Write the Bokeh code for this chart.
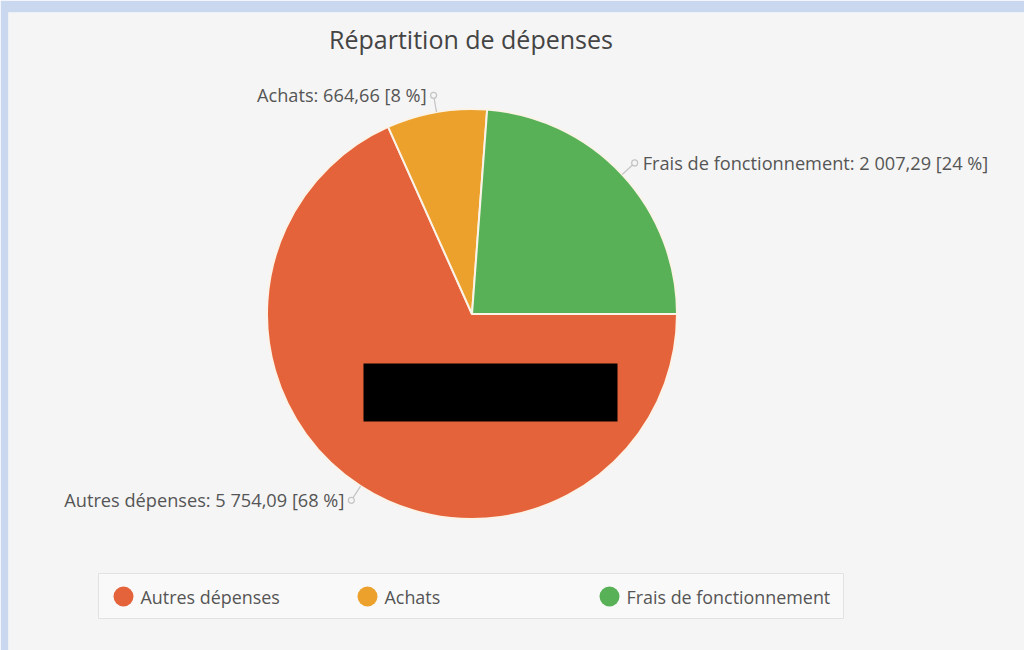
import math
from bokeh.plotting import figure
from bokeh.models import Range1d, ColumnDataSource
from bokeh.core.properties import value
from bokeh.embed import file_html
from bokeh.resources import INLINE

# ---- data ----
title = "Répartition de dépenses"
categories = ["Autres dépenses", "Achats", "Frais de fonctionnement"]
amounts = [5754.09, 664.66, 2007.29]
colors = ["#e4633a", "#eba12c", "#58b157"]

FONT = "Open Sans"
W, H = 1024, 650
TOP = 12   # blue strip at top
LEFT = 8   # blue strip at left

def fr(v):
    s = f"{v:,.2f}"
    return s.replace(",", " ").replace(".", ",")

p = figure(width=W, height=H, output_backend="svg", toolbar_location=None,
           x_range=Range1d(LEFT, W), y_range=Range1d(0, H - TOP),
           min_border_left=LEFT, min_border_right=0, min_border_top=TOP,
           min_border_bottom=0)
p.axis.visible = False
p.grid.visible = False
p.outline_line_color = None
p.background_fill_color = "#f5f5f5"
p.border_fill_color = "#c9d8ef"

def Y(sy):
    return H - sy

# ---- pie ----
cx, cy, R = 471.5, 313.5, 205
total = sum(amounts)
starts, ends, mids = [], [], []
a = 0.0  # clockwise from 3 o'clock
for v in amounts:
    frac = v / total * 2 * math.pi
    starts.append(a - frac)
    ends.append(a)
    mids.append(a - frac / 2)
    a -= frac

src = ColumnDataSource(dict(x=[cx] * 3, y=[Y(cy)] * 3, s=starts, e=ends, c=colors))
p.wedge(x="x", y="y", radius=R, radius_units="screen", start_angle="s", end_angle="e",
        fill_color="c", line_color="#fbf3e8", line_width=2, source=src)

# redaction block present in the reference
p.quad(left=[363], right=[617], bottom=[Y(421)], top=[Y(363)],
       fill_color="black", line_color=None)

# ---- labels with leaders ----
pcts = [round(v / total * 100) for v in amounts]
lx0, ly0, lx1, ly1, tx, ty, txt, align = [], [], [], [], [], [], [], []
for cat, v, pc, m in zip(categories, amounts, pcts, mids):
    dx, dy = math.cos(m), math.sin(m)
    ex, ey = cx + R * dx, Y(cy) + R * dy
    dxp, dyp = cx + (R + 17) * dx, Y(cy) + (R + 17) * dy
    lx0.append(ex); ly0.append(ey); lx1.append(dxp); ly1.append(dyp)
    if dx < 0:
        tx.append(dxp - 7); align.append("right")
    else:
        tx.append(dxp + 8); align.append("left")
    ty.append(dyp)
    txt.append(f"{cat}: {fr(v)} [{pc} %]")

p.segment(x0=lx0, y0=ly0, x1=lx1, y1=ly1, line_color="#c4c4c4", line_width=1.2)
p.scatter(x=lx1, y=ly1, size=6, marker="circle", fill_color="#f5f5f5",
          line_color="#c4c4c4", line_width=1.2)
lab = ColumnDataSource(dict(x=tx, y=ty, t=txt, a=align))
p.text(x="x", y="y", text="t", text_align="a", text_baseline="middle",
       text_font=value(FONT), text_font_size="18.2px", text_color="#555555", source=lab)

# ---- title ----
p.text(x=[470.5], y=[Y(38)], text=[title], text_align="center", text_baseline="middle",
       text_font=value(FONT), text_font_size="25px", text_color="#444444")

# ---- legend ----
p.quad(left=[98], right=[843], bottom=[Y(618)], top=[Y(573)],
       fill_color="#f9f9f9", line_color="#e2e2e2", line_width=1)
leg_x = [123, 367, 609]
p.scatter(x=leg_x, y=[Y(596)] * 3, size=20, marker="circle", fill_color=colors,
          line_color=None)
p.text(x=[lx + 17 for lx in leg_x], y=[Y(596)] * 3, text=categories,
       text_baseline="middle", text_font=value(FONT), text_font_size="17.9px",
       text_color="#555555")

open("out.html", "w").write(file_html(p, INLINE))
